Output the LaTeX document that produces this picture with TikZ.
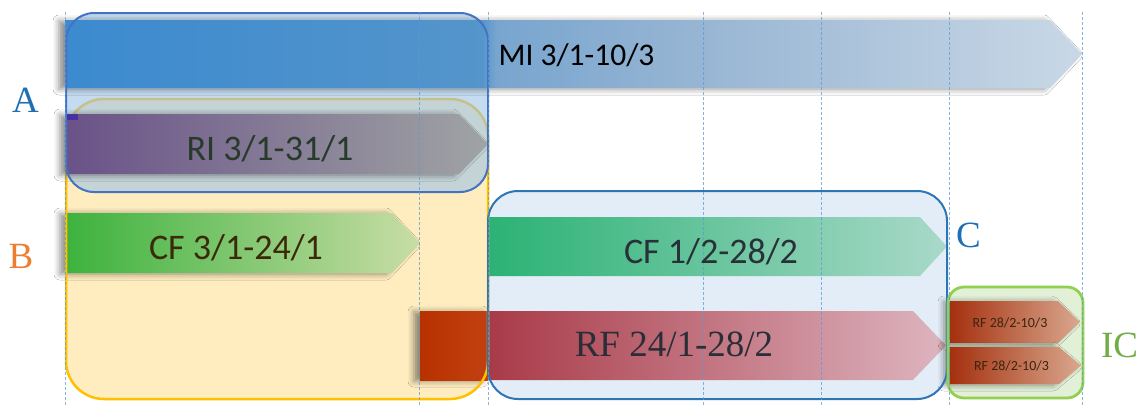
\documentclass[tikz,border=0pt]{standalone}
\usepackage{fontspec}
\setmainfont{Liberation Serif}
\newfontfamily\calib{Carlito}
\usetikzlibrary{shadows.blur}
\definecolor{afill}{HTML}{9DC3E6}
\definecolor{aline}{HTML}{4472C4}
\definecolor{bfill}{HTML}{FFEDC0}
\definecolor{bline}{HTML}{FFC000}
\definecolor{cfill}{HTML}{E3EDF7}
\definecolor{cline}{HTML}{2E75B6}
\definecolor{icfill}{HTML}{E3F0D8}
\definecolor{icline}{HTML}{92D050}
\definecolor{gridblue}{HTML}{5B9BD5}
\definecolor{labA}{HTML}{1F6FB5}
\definecolor{labB}{HTML}{ED7D31}
\definecolor{labIC}{HTML}{70AD47}
\definecolor{miA}{HTML}{3C8ACF}
\definecolor{miB}{HTML}{5495CB}
\definecolor{miC}{HTML}{78A5CF}
\definecolor{miD}{HTML}{97B5D3}
\definecolor{miE}{HTML}{C9D8E6}
\definecolor{riL}{RGB}{106,82,136}
\definecolor{riR}{RGB}{160,164,164}
\definecolor{riStrip}{RGB}{74,47,160}
\definecolor{cf3L}{RGB}{61,178,62}
\definecolor{cf3R}{RGB}{200,221,165}
\definecolor{orL}{RGB}{184,50,0}
\definecolor{orR}{RGB}{194,64,16}
\definecolor{cf1L}{RGB}{43,178,116}
\definecolor{cf1R}{RGB}{169,217,201}
\definecolor{rfL}{RGB}{169,58,72}
\definecolor{rfR}{RGB}{221,181,191}
\definecolor{smL}{RGB}{164,48,14}
\definecolor{smR}{RGB}{217,168,142}
\definecolor{tRI}{RGB}{40,58,42}
\definecolor{tCF3}{RGB}{58,42,8}
\definecolor{tCF1}{RGB}{40,48,56}
\definecolor{tRF}{RGB}{42,46,54}
\definecolor{tSm}{RGB}{60,36,16}
\pgfdeclarehorizontalshading{mishade}{100bp}{color(0bp)=(miA); color(25bp)=(miA); color(45.5bp)=(miB); color(46.2bp)=(miC); color(56bp)=(miD); color(75bp)=(miE); color(100bp)=(miE)}
\tikzset{
  barshadow/.style={blur shadow={shadow xshift=-6pt,shadow yshift=-1pt,shadow opacity=45,shadow blur radius=6pt}},
  gridline/.style={draw=gridblue,line width=0.8pt,dash pattern=on 3pt off 2pt,opacity=0.75},
  sanslab/.style={font=\calib\fontsize{36}{40}\selectfont,anchor=base,inner sep=0pt},
  smalllab/.style={font=\calib\fontsize{14}{16}\selectfont,anchor=base,inner sep=0pt,text=tSm},
  serlab/.style={font=\fontsize{37}{40}\selectfont,anchor=base,inner sep=0pt},
}
\begin{document}
\begin{tikzpicture}[x=1pt,y=-1pt]
\useasboundingbox (0,0) rectangle (1146,405);
\fill[white] (0,0) rectangle (1146,405);
% group backgrounds
\fill[bfill,rounded corners=38pt] (66,99) rectangle (488,399);
\fill[cfill,rounded corners=30pt] (488,191) rectangle (947,399);
\fill[icfill,rounded corners=16pt] (948,287) rectangle (1083,398);
% lower bars
\path[barshadow,left color=cf3L,right color=cf3R]
  (66,213) -- (392,213) -- (420,243) -- (392,273) -- (66,273) -- cycle;
\path[barshadow,left color=orL,right color=orR]
  (420,311) rectangle (488,380);
\path[left color=cf1L,right color=cf1R]
  (488,217) -- (920,217) -- (947,246.5) -- (920,276) -- (488,276) -- cycle;
\path[left color=rfL,right color=rfR]
  (488,311) -- (913,311) -- (946,345.5) -- (913,380) -- (488,380) -- cycle;
\path[barshadow,left color=smL,right color=smR]
  (950,301) -- (1058,301) -- (1080,322) -- (1058,343) -- (950,343) -- cycle;
\path[barshadow,left color=smL,right color=smR]
  (950,347) -- (1059,347) -- (1081,365.5) -- (1059,384) -- (950,384) -- cycle;
% border of B below the translucent A
\draw[bline,line width=2.5pt,rounded corners=38pt] (66,99) rectangle (488,399);
% A fill
\fill[afill,fill opacity=0.6,rounded corners=28pt] (66,13) rectangle (488,192);
% upper bars
\path[barshadow,shading=mishade]
  (65,20) -- (1050,20) -- (1082,54) -- (1050,88) -- (65,88) -- cycle;
\path[barshadow,left color=riL,right color=riR]
  (66,114) -- (459,114) -- (488,144) -- (459,174) -- (66,174) -- cycle;
\fill[riStrip] (66,114) rectangle (78,120);
% group borders
\draw[aline,line width=2pt,rounded corners=28pt] (66,13) rectangle (488,192);
\draw[cline,line width=2pt,rounded corners=30pt] (488,191) rectangle (947,399);
\draw[icline,line width=2.8pt,rounded corners=16pt] (948,287) rectangle (1083,398);
% grid lines
\foreach \gx/\gn in {65/g1,419/g2,488/g3,703/g4,821/g5,949/g6,1082/g7}{
  \coordinate (\gn t) at (\gx,12);
  \coordinate (\gn b) at (\gx,405);
  \draw[gridline] (\gn t) -- (\gn b);
}
% labels
\node[sanslab,font=\calib\fontsize{31.5}{36}\selectfont,text=black] (mi) at (576.5,65) {MI 3/1-10/3};
\node[sanslab,text=tRI] (ri) at (270,160) {RI 3/1-31/1};
\node[sanslab,text=tCF3] (cf3) at (236,259) {CF 3/1-24/1};
\node[sanslab,text=tCF1] (cf1) at (711,263) {CF 1/2-28/2};
\node[serlab,text=tRF] (rf24) at (674,356) {RF 24/1-28/2};
\node[smalllab] (rfa) at (1010,327) {RF 28/2-10/3};
\node[smalllab] (rfb) at (1011.5,370) {RF 28/2-10/3};
\node[serlab,text=labA] (la) at (25.5,112) {A};
\node[serlab,text=labB] (lb) at (21,268) {B};
\node[serlab,text=labA] (lc) at (968.5,247) {C};
\node[serlab,text=labIC] (lic) at (1119.5,357) {IC};
\end{tikzpicture}
\end{document}
